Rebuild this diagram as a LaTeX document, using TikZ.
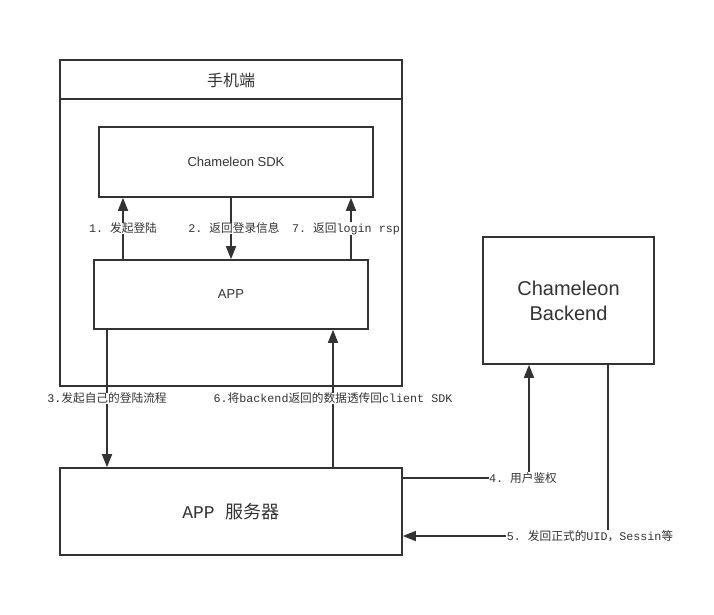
\documentclass[tikz,border=0pt]{standalone}
\usepackage{fontspec}
\setsansfont{Liberation Sans}
\setmonofont{Liberation Mono}
\newfontfamily\cjk{Noto Sans CJK SC}
\newcommand\zh[1]{{\cjk #1}}
\usetikzlibrary{arrows.meta}
\definecolor{ink}{HTML}{333333}

\begin{document}
\begin{tikzpicture}[x=1pt,y=-1pt,
box/.style={%
draw=ink,
line width=1.6pt,
text=ink,
inner sep=0pt,
},
lbl/.style={%
fill=white,
text=ink,
inner sep=0.5pt,
font=\ttfamily\fontsize{11.7}{14}\selectfont,
},
flow/.style={%
draw=ink,
line width=1.6pt,
-{Triangle[length=13pt,width=10pt]},
},
]
\useasboundingbox (0,0) rectangle (714,615);
%% Phone side
\node[box,minimum width=342pt,minimum height=326pt](phone)at(231,223){};
\node[text=ink,font=\cjk\fontsize{16}{18}\selectfont](phonetitle)at(231,80){手机端};
\draw[draw=ink,line width=1.6pt]([yshift=-40pt]phone.north west)--([yshift=-40pt]phone.north east);
\node[box,font=\sffamily\fontsize{13}{15}\selectfont,minimum width=274pt,minimum height=70pt](sdk)at(236,162){Chameleon SDK};
\node[box,font=\sffamily\fontsize{13}{15}\selectfont,minimum width=274pt,minimum height=69pt](app)at(231,294.5){APP};
%% Servers
\node[box,font=\ttfamily\fontsize{18}{20}\selectfont,minimum width=342pt,minimum height=87pt](server)at(231,511.5){APP \zh{服务器}};
\node[box,align=center,font=\sffamily\fontsize{20}{25}\selectfont,minimum width=171pt,minimum height=127pt](backend)at(568.5,300.5){Chameleon\\Backend};
%% SDK <-> APP
\draw[flow](123,0 |- app.north)--node[lbl]{1. \zh{发起登陆}}(123,0 |- sdk.south);
\draw[flow](231,0 |- sdk.south)--node[lbl,xshift=3pt]{2. \zh{返回登录信息}}(231,0 |- app.north);
\draw[flow](351,0 |- app.north)--node[lbl,xshift=-5pt]{7. \zh{返回}login rsp}(351,0 |- sdk.south);
%% APP <-> server
\draw[flow](107,0 |- app.south)--node[lbl]{3.\zh{发起自己的登陆流程}}(107,0 |- server.north);
\draw[flow](333,0 |- server.north)--node[lbl]{6.\zh{将}backend\zh{返回的数据透传回}client SDK}(333,0 |- app.south);
%% server <-> backend
\draw[flow](server.east |- 0,478)-|node[lbl,pos=0.5,xshift=-6pt]{4. \zh{用户鉴权}}(529,0 |- backend.south);
\draw[flow](608,0 |- backend.south)|-node[lbl,pos=0.5,xshift=-18pt]{5. \zh{发回正式的}UID\zh{，}Sessin\zh{等}}(server.east |- 0,536);
\end{tikzpicture}
\end{document}
